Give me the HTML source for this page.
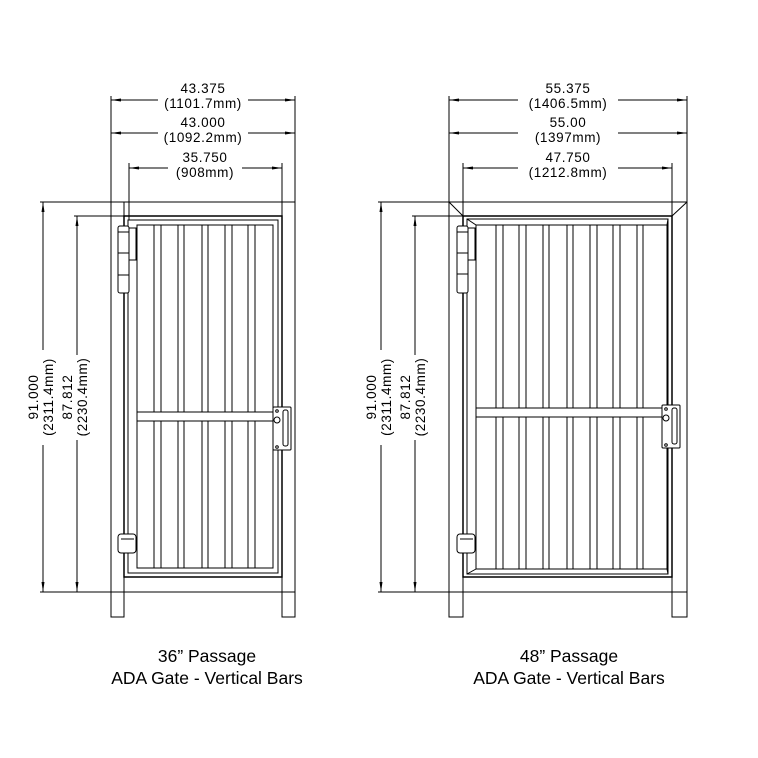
<!DOCTYPE html>
<html><head><style>body{margin:0;background:#fff}svg{display:block}</style></head><body>
<svg width="758" height="758" viewBox="0 0 758 758" xmlns="http://www.w3.org/2000/svg" font-family="Liberation Sans, sans-serif">
<defs>
<marker id="a" markerWidth="10" markerHeight="6" refX="10" refY="3" orient="auto-start-reverse" markerUnits="userSpaceOnUse"><path d="M0,1.5 L10,3 L0,4.5z" fill="#000"/></marker>
</defs>
<g stroke="#000" stroke-width="1" fill="none">
<line x1="111" y1="96" x2="111" y2="202"/><line x1="295" y1="96" x2="295" y2="202"/>
<line x1="129" y1="163" x2="129" y2="220"/><line x1="282" y1="163" x2="282" y2="216"/>
<line x1="111" y1="100" x2="158" y2="100" marker-start="url(#a)"/><line x1="248" y1="100" x2="295" y2="100" marker-end="url(#a)"/>
<line x1="111" y1="133" x2="158" y2="133" marker-start="url(#a)"/><line x1="248" y1="133" x2="295" y2="133" marker-end="url(#a)"/>
<line x1="129" y1="168" x2="168" y2="168" marker-start="url(#a)"/><line x1="242" y1="168" x2="282" y2="168" marker-end="url(#a)"/>
<line x1="40" y1="202" x2="124" y2="202"/><line x1="74" y1="216" x2="124" y2="216"/>
<line x1="40" y1="592" x2="295" y2="592"/>
<line x1="43" y1="202" x2="43" y2="350" marker-start="url(#a)"/><line x1="43" y1="445" x2="43" y2="592" marker-end="url(#a)"/>
<line x1="77" y1="216" x2="77" y2="355" marker-start="url(#a)"/><line x1="77" y1="440" x2="77" y2="592" marker-end="url(#a)"/>
<rect x="111" y="202" width="13" height="415"/><rect x="282" y="202" width="13" height="415"/>
<line x1="111" y1="202" x2="295" y2="202"/>
<rect x="124" y="216" width="158" height="361" stroke-width="1.5"/>
<rect x="128" y="220" width="150" height="353"/>
<rect x="137" y="225" width="136" height="343"/>
<line x1="137" y1="412" x2="273" y2="412"/><line x1="137" y1="421" x2="273" y2="421"/>
</g>
<g stroke="#000" stroke-width="1" fill="none">
<path d="M154 225V412M161 225V412M154 421V568M161 421V568
M178 225V412M184 225V412M178 421V568M184 421V568
M202 225V412M208 225V412M202 421V568M208 421V568
M225 225V412M232 225V412M225 421V568M232 421V568
M248 225V412M255 225V412M248 421V568M255 421V568"/>
<rect x="118" y="226" width="11" height="67" rx="2" fill="#fff"/><line x1="118" y1="232" x2="129" y2="232"/><line x1="118" y1="253" x2="129" y2="253"/><line x1="118" y1="275" x2="129" y2="275"/>
<rect x="129" y="228" width="7" height="32"/>
<rect x="118" y="534" width="18" height="19" rx="3" fill="#fff"/><line x1="121" y1="539" x2="134" y2="539"/>
<rect x="273" y="407" width="18" height="43" rx="1" fill="#fff"/><rect x="283" y="410" width="5" height="36" rx="2"/><circle cx="277" cy="420" r="3"/><circle cx="277" cy="411" r="1.3"/><circle cx="277" cy="447" r="1.3"/>
</g>

<g stroke="#000" stroke-width="1" fill="none">
<line x1="449" y1="96" x2="449" y2="202"/><line x1="687" y1="96" x2="687" y2="202"/>
<line x1="463" y1="163" x2="463" y2="216"/><line x1="672" y1="163" x2="672" y2="216"/>
<line x1="449" y1="100" x2="518" y2="100" marker-start="url(#a)"/><line x1="618" y1="100" x2="687" y2="100" marker-end="url(#a)"/>
<line x1="449" y1="133" x2="518" y2="133" marker-start="url(#a)"/><line x1="618" y1="133" x2="687" y2="133" marker-end="url(#a)"/>
<line x1="463" y1="168" x2="518" y2="168" marker-start="url(#a)"/><line x1="618" y1="168" x2="672" y2="168" marker-end="url(#a)"/>
<line x1="378" y1="202" x2="463" y2="202"/><line x1="412" y1="216" x2="463" y2="216"/>
<line x1="378" y1="592" x2="687" y2="592"/>
<line x1="381" y1="202" x2="381" y2="350" marker-start="url(#a)"/><line x1="381" y1="445" x2="381" y2="592" marker-end="url(#a)"/>
<line x1="415" y1="216" x2="415" y2="355" marker-start="url(#a)"/><line x1="415" y1="440" x2="415" y2="592" marker-end="url(#a)"/>
<rect x="449" y="202" width="14" height="415"/><rect x="672" y="202" width="15" height="415"/>
<line x1="449" y1="202" x2="687" y2="202"/>
<line x1="449" y1="202" x2="463" y2="216"/><line x1="687" y1="202" x2="672" y2="216"/>
<rect x="463" y="216" width="209" height="361" stroke-width="1.5"/>
<rect x="467" y="219" width="201" height="355"/>
<rect x="476" y="225" width="191" height="344"/>
<line x1="467" y1="219" x2="476" y2="225"/><line x1="668" y1="219" x2="667" y2="225"/>
<line x1="467" y1="574" x2="476" y2="569"/><line x1="668" y1="574" x2="667" y2="569"/>
<line x1="476" y1="408" x2="667" y2="408"/><line x1="476" y1="417" x2="667" y2="417"/>
<path d="M496 225V408M503 225V408M496 417V569M503 417V569
M519 225V408M526 225V408M519 417V569M526 417V569
M543 225V408M549 225V408M543 417V569M549 417V569
M567 225V408M573 225V408M567 417V569M573 417V569
M590 225V408M597 225V408M590 417V569M597 417V569
M613 225V408M620 225V408M613 417V569M620 417V569
M637 225V408M643 225V408M637 417V569M643 417V569"/>
<rect x="457" y="226" width="11" height="67" rx="2" fill="#fff"/><line x1="457" y1="232" x2="468" y2="232"/><line x1="457" y1="253" x2="468" y2="253"/><line x1="457" y1="274" x2="468" y2="274"/>
<rect x="468" y="228" width="7" height="32"/>
<rect x="457" y="534" width="18" height="19" rx="3" fill="#fff"/><line x1="460" y1="539" x2="473" y2="539"/>
<rect x="662" y="405" width="18" height="43" rx="1" fill="#fff"/><rect x="672" y="408" width="5" height="36" rx="2"/><circle cx="666" cy="418" r="3"/><circle cx="666" cy="409" r="1.3"/><circle cx="666" cy="445" r="1.3"/>
</g>

<g font-size="13.5" letter-spacing="0.6" fill="#000" text-anchor="middle">
<text x="203" y="93">43.375</text><text x="203" y="108">(1101.7mm)</text>
<text x="203" y="127">43.000</text><text x="203" y="142">(1092.2mm)</text>
<text x="205" y="162">35.750</text><text x="205" y="177">(908mm)</text>
<text x="568" y="93">55.375</text><text x="568" y="108">(1406.5mm)</text>
<text x="568" y="127">55.00</text><text x="568" y="142">(1397mm)</text>
<text x="568" y="162">47.750</text><text x="568" y="177">(1212.8mm)</text>
<g transform="translate(38,397) rotate(-90)"><text x="0" y="0">91.000</text><text x="0" y="15">(2311.4mm)</text></g>
<g transform="translate(72,397) rotate(-90)"><text x="0" y="0">87.812</text><text x="0" y="15">(2230.4mm)</text></g>
<g transform="translate(376,397) rotate(-90)"><text x="0" y="0">91.000</text><text x="0" y="15">(2311.4mm)</text></g>
<g transform="translate(410,397) rotate(-90)"><text x="0" y="0">87.812</text><text x="0" y="15">(2230.4mm)</text></g>
</g>
<g font-size="17.5" fill="#000" text-anchor="middle">
<text x="207" y="662">36” Passage</text><text x="207" y="684">ADA Gate - Vertical Bars</text>
<text x="569" y="662">48” Passage</text><text x="569" y="684">ADA Gate - Vertical Bars</text>
</g>
</svg>
</body></html>
